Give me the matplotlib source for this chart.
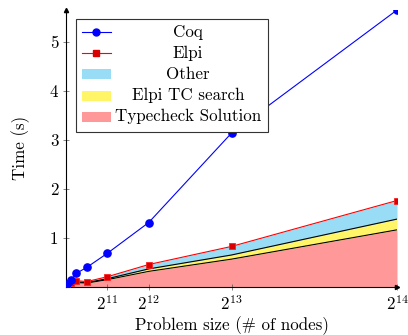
import matplotlib
matplotlib.use("Agg")
import matplotlib.pyplot as plt
from matplotlib.patches import Rectangle
from matplotlib.lines import Line2D

plt.rcParams['font.family'] = ['cmr10', 'DejaVu Serif']
plt.rcParams['mathtext.fontset'] = 'cm'
plt.rcParams['axes.unicode_minus'] = False
plt.rcParams['axes.formatter.use_mathtext'] = True

# ---- data ----
sizes = [64, 256, 512, 1024, 2048, 4096, 8192, 16384]
coq = [0.05, 0.13, 0.27, 0.39, 0.68, 1.31, 3.14, 5.66]
elpi = [0.06, 0.08, 0.12, 0.10, 0.20, 0.45, 0.82, 1.76]
typecheck = [0.04, 0.055, 0.08, 0.07, 0.14, 0.31, 0.56, 1.16]
tc_search = [0.008, 0.01, 0.015, 0.01, 0.02, 0.05, 0.085, 0.22]
other = [0.012, 0.015, 0.025, 0.02, 0.04, 0.09, 0.175, 0.38]
xtick_vals = [2048, 4096, 8192, 16384]
xtick_labels = [r'$2^{11}$', r'$2^{12}$', r'$2^{13}$', r'$2^{14}$']
ytick_vals = [1, 2, 3, 4, 5]
labels = ['Coq', 'Elpi', 'Other', 'Elpi TC search', 'Typecheck Solution']

c_other = '#99dcf5'
c_tc = '#fff566'
c_type = '#ff9999'
FS = 12.2

fig = plt.figure(figsize=(4.08, 3.35), dpi=100)
L, R, T, B = 66, 397, 10, 286.5
W, H = 408, 335
ax = fig.add_axes([L / W, 1 - B / H, (R - L) / W, (B - T) / H])

lvl1 = typecheck
lvl2 = [a + b for a, b in zip(typecheck, tc_search)]
lvl3 = [a + b for a, b in zip(lvl2, other)]
ax.fill_between(sizes, 0, lvl1, color=c_type, lw=0, zorder=1)
ax.fill_between(sizes, lvl1, lvl2, color=c_tc, lw=0, zorder=1)
ax.fill_between(sizes, lvl2, lvl3, color=c_other, lw=0, zorder=1)
ax.plot(sizes, lvl1, color='black', lw=0.8, zorder=2)
ax.plot(sizes, lvl2, color='black', lw=0.8, zorder=2)

ax.plot(sizes, elpi, color='red', lw=0.8, marker='s', ms=5,
        mfc='#d80000', mec='#ff2020', mew=0.6, zorder=4)
ax.plot(sizes, coq, color='blue', lw=0.8, marker='o', ms=5.2,
        mfc='blue', mec='blue', zorder=5)

ax.set_xlim(0, 16384)
ax.set_ylim(0, 5.66)
for s in ['top', 'right']:
    ax.spines[s].set_visible(False)
for s in ['left', 'bottom']:
    ax.spines[s].set_linewidth(0.8)
    ax.spines[s].set_zorder(3)
ax.plot(1, 0, '>k', ms=3, transform=ax.transAxes, clip_on=False, zorder=6)
ax.plot(0, 1, '^k', ms=3, transform=ax.transAxes, clip_on=False, zorder=6)

ax.set_xticks(xtick_vals)
ax.set_xticklabels(xtick_labels)
ax.set_yticks(ytick_vals)
ax.set_yticklabels([str(v) for v in ytick_vals])
ax.tick_params(direction='inout', length=5, width=0.5, color='#555555',
               labelsize=FS, pad=3)
ax.set_xlabel('Problem size (# of nodes)', fontsize=FS, labelpad=2)
ax.set_ylabel('Time (s)', fontsize=FS, labelpad=14)

# ---- legend (centered text, pgfplots style) ----
def fx(px):
    return (px - L) / (R - L)

def fy(py):
    return (B - py) / (B - T)

box = Rectangle((fx(76), fy(131.7)), fx(268.3) - fx(76), fy(19) - fy(131.7),
                transform=ax.transAxes, facecolor='white', edgecolor='#333333',
                lw=0.8, zorder=10)
ax.add_patch(box)
rows = [32.3, 53.3, 74, 95.7, 116.7]
hx0, hx1, tx = 81.7, 111, 188
handles = [('line', 'blue', 'o', 'blue'), ('line', 'red', 's', '#d80000'),
           ('patch', c_other), ('patch', c_tc), ('patch', c_type)]
for lab, py, h in zip(labels, rows, handles):
    if h[0] == 'line':
        ax.add_line(Line2D([fx(hx0), fx(hx1)], [fy(py), fy(py)], color=h[1], lw=0.8,
                           transform=ax.transAxes, zorder=11))
        ax.add_line(Line2D([fx((hx0 + hx1) / 2)], [fy(py)], marker=h[2], ms=5,
                           mfc=h[3], mec=h[3], lw=0, transform=ax.transAxes, zorder=12))
    else:
        ax.add_patch(Rectangle((fx(hx0), fy(py + 5)), fx(hx1) - fx(hx0), fy(py - 5) - fy(py + 5),
                               transform=ax.transAxes, facecolor=h[1], lw=0, zorder=11))
    ax.text(fx(tx), fy(py), lab, transform=ax.transAxes, ha='center', va='center',
            fontsize=FS, zorder=12)

fig.savefig('out.png', dpi=100)
